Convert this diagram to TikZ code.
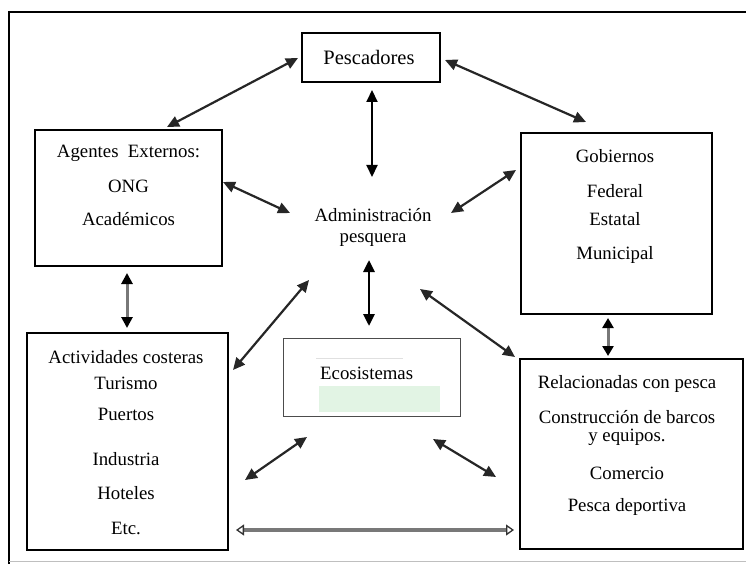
\documentclass[tikz,border=0pt]{standalone}
\usepackage{fontspec}
\setmainfont{Liberation Serif}
\usetikzlibrary{arrows.meta}
\definecolor{ecogreen}{RGB}{226,244,228}
\definecolor{linegray}{RGB}{120,120,120}
\tikzset{
  box/.style={draw=black, line width=1.9pt, rectangle, inner sep=0pt},
  ecobox/.style={draw=black!70, line width=0.7pt, rectangle, inner sep=0pt},
  txt/.style={inner sep=0pt, anchor=base, font=\fontsize{18.8}{22}\selectfont},
  bigtxt/.style={inner sep=0pt, anchor=base, font=\fontsize{20.5}{24}\selectfont},
  link/.style={line width=2.2pt, black!85, {Triangle[length=12pt,width=11pt]}-{Triangle[length=12pt,width=11pt]}},
  vlink/.style={line width=2.2pt, black, {Triangle[length=12pt,width=11pt]}-{Triangle[length=12pt,width=11pt]}},
  glink/.style={line width=3pt, linegray, {Triangle[length=11pt,width=11pt,color=black]}-{Triangle[length=11pt,width=11pt,color=black]}},
  hlink/.style={line width=4pt, linegray, {Triangle[open,length=8pt,width=11pt,line width=1.3pt,color=black!80]}-{Triangle[open,length=8pt,width=11pt,line width=1.3pt,color=black!80]}}
}
\begin{document}
\begin{tikzpicture}[x=1pt,y=-1pt]
\useasboundingbox (0,0) rectangle (746,564);
\fill[white] (0,0) rectangle (746,564);
% outer frame
\draw[line width=2.2pt] (9,12) -- (746,12);
\draw[line width=1.8pt] (9,11) -- (9,564);
\draw[line width=0.6pt, black!25] (9,561) -- (746,561);

% boxes
\node[box, minimum width=138pt, minimum height=49pt] (pesc) at (371,57.5) {};
\node[box, minimum width=187pt, minimum height=136pt] (agen) at (128.5,198) {};
\node[box, minimum width=191pt, minimum height=181pt] (gob) at (616.5,223.5) {};
\node[box, line width=2.3pt, minimum width=201pt, minimum height=217pt] (act) at (127.5,441.5) {};
\node[box, minimum width=223pt, minimum height=190pt] (rel) at (631.5,454) {};
\node[ecobox, minimum width=177pt, minimum height=78pt] (eco) at (371.5,377) {};
\fill[ecogreen] (319,386) rectangle (440,412);
\draw[line width=0.4pt, black!12] (316,358) -- (403,358);

% texts
\node[bigtxt] (tpesc) at (369,65) {Pescadores};
\node[txt] (tag1) at (128.5,158) {Agentes~~Externos:};
\node[txt] (tag2) at (128.5,192) {ONG};
\node[txt] (tag3) at (128.5,225) {Académicos};
\node[txt] (tgo1) at (615,163) {Gobiernos};
\node[txt] (tgo2) at (615,197) {Federal};
\node[txt] (tgo3) at (615,225) {Estatal};
\node[txt] (tgo4) at (615,259) {Municipal};
\node[txt] (tadm1) at (373,221) {Administración};
\node[txt] (tadm2) at (373,242) {pesquera};
\node[txt] (tac1) at (126,363) {Actividades costeras};
\node[txt] (tac2) at (126,389) {Turismo};
\node[txt] (tac3) at (126,420) {Puertos};
\node[txt] (tac4) at (126,465) {Industria};
\node[txt] (tac5) at (126,499) {Hoteles};
\node[txt] (tac6) at (126,534) {Etc.};
\node[txt] (tre1) at (627,388) {Relacionadas con pesca};
\node[txt] (tre2) at (627,423) {Construcción de barcos};
\node[txt] (tre3) at (627,441) {y equipos.};
\node[txt] (tre4) at (627,479) {Comercio};
\node[txt] (tre5) at (627,511) {Pesca deportiva};
\node[txt, anchor=base west] (teco) at (320,379) {Ecosistemas};

% connector end points
\coordinate (p1) at (298,58);  \coordinate (ag1) at (167,127);
\coordinate (p2) at (445,60);  \coordinate (go1) at (586,122);
\coordinate (p3) at (372,90);  \coordinate (ad1) at (372,177);
\coordinate (ag2) at (223,182); \coordinate (ad2) at (290,213);
\coordinate (go2) at (516,170); \coordinate (ad3) at (451,213);
\coordinate (ad4) at (369,260); \coordinate (ec1) at (369,326);
\coordinate (ag3) at (127,273); \coordinate (ac1) at (127,328);
\coordinate (ad5) at (309,280); \coordinate (ac2) at (233,370);
\coordinate (ad6) at (420,289); \coordinate (re1) at (515,357);
\coordinate (go3) at (608,318); \coordinate (re2) at (608,356);
\coordinate (ec2) at (307,437); \coordinate (ac3) at (245,480);
\coordinate (ec3) at (433,439); \coordinate (re3) at (496,477);
\coordinate (ac4) at (236,530); \coordinate (re4) at (514,530);

% connectors
\draw[link] (p1) -- (ag1);
\draw[link] (p2) -- (go1);
\draw[vlink, line width=2pt] (p3) -- (ad1);
\draw[link] (ag2) -- (ad2);
\draw[link] (go2) -- (ad3);
\draw[vlink, line width=2.8pt] (ad4) -- (ec1);
\draw[glink] (ag3) -- (ac1);
\draw[link] (ad5) -- (ac2);
\draw[link] (ad6) -- (re1);
\draw[glink, {Triangle[length=10pt,width=11pt,color=black]}-{Triangle[length=10pt,width=11pt,color=black]}] (go3) -- (re2);
\draw[link] (ec2) -- (ac3);
\draw[link] (ec3) -- (re3);
\draw[hlink] (ac4) -- (re4);
\end{tikzpicture}
\end{document}
